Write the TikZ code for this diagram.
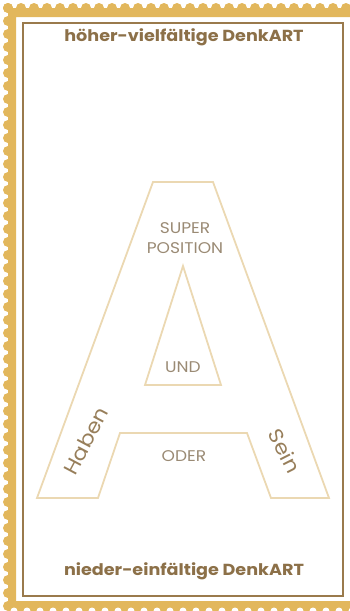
\documentclass[tikz,border=0pt]{standalone}
\usepackage{fontspec}
\setmainfont{Poppins}
\newfontfamily\widefont[FakeStretch=1.1]{Poppins}
\usepackage{tikz}
\usetikzlibrary{positioning,calc}
\usepackage{xcolor}
\definecolor{stampgold}{HTML}{E2B75C}
\definecolor{framebrown}{HTML}{9A7A4C}
\definecolor{headbrown}{HTML}{8C7048}
\definecolor{letterline}{HTML}{EBD8B2}
\definecolor{lettertext}{HTML}{9A8A74}

\begin{document}
\begin{tikzpicture}[
  x=1pt, y=-1pt,
  head/.style={font=\widefont\fontsize{16}{18}\selectfont\bfseries, text=headbrown, inner sep=0pt},
  word/.style={font=\widefont\fontsize{15.5}{20}\selectfont, text=lettertext, inner sep=0pt, align=center},
  legword/.style={word, font=\widefont\fontsize{20}{22}\selectfont, text=headbrown!90},
  letter/.style={draw=letterline, line width=1.8pt, line join=miter},
]
\useasboundingbox (0,0) rectangle (349,611);

% Stamp edge (left, top, bottom)
\fill[stampgold, even odd rule] (8,8) rectangle (360,620) (16,17) rectangle (360,601);
\foreach \k in {0,...,46} {
  \fill[stampgold] (8,{8+13*\k}) circle (5);
}
\foreach \k in {0,...,27} {
  \fill[stampgold] ({8+13*\k},8) circle (5);
  \fill[white] ({14+13*\k},611) circle (3.5);
}

% Inner frame
\draw[framebrown, line width=1.6pt] (23,23) rectangle (343,596);

% Headings
\node[head] (hoch) at (184,37) {höher-vielfältige DenkART};
\node[head] (nieder) at (184,571) {nieder-einfältige DenkART};

% The big A
\draw[letter] (37,498) -- (153,182) -- (213,182) -- (329,498) -- (271,498)
  -- (247,433) -- (120,433) -- (98,498) -- cycle;
\draw[letter] (183,266) -- (221,385) -- (145,385) -- cycle;

% Words
\node[word] (super) at (185,238) {SUPER\\POSITION};
\node[word] (und) at (183,367) {UND};
\node[word] (oder) at (184,456) {ODER};
\node[legword, rotate=62] (haben) at (86,441) {Haben};
\node[legword, rotate=-63] (sein) at (285,451) {Sein};

\end{tikzpicture}
\end{document}
